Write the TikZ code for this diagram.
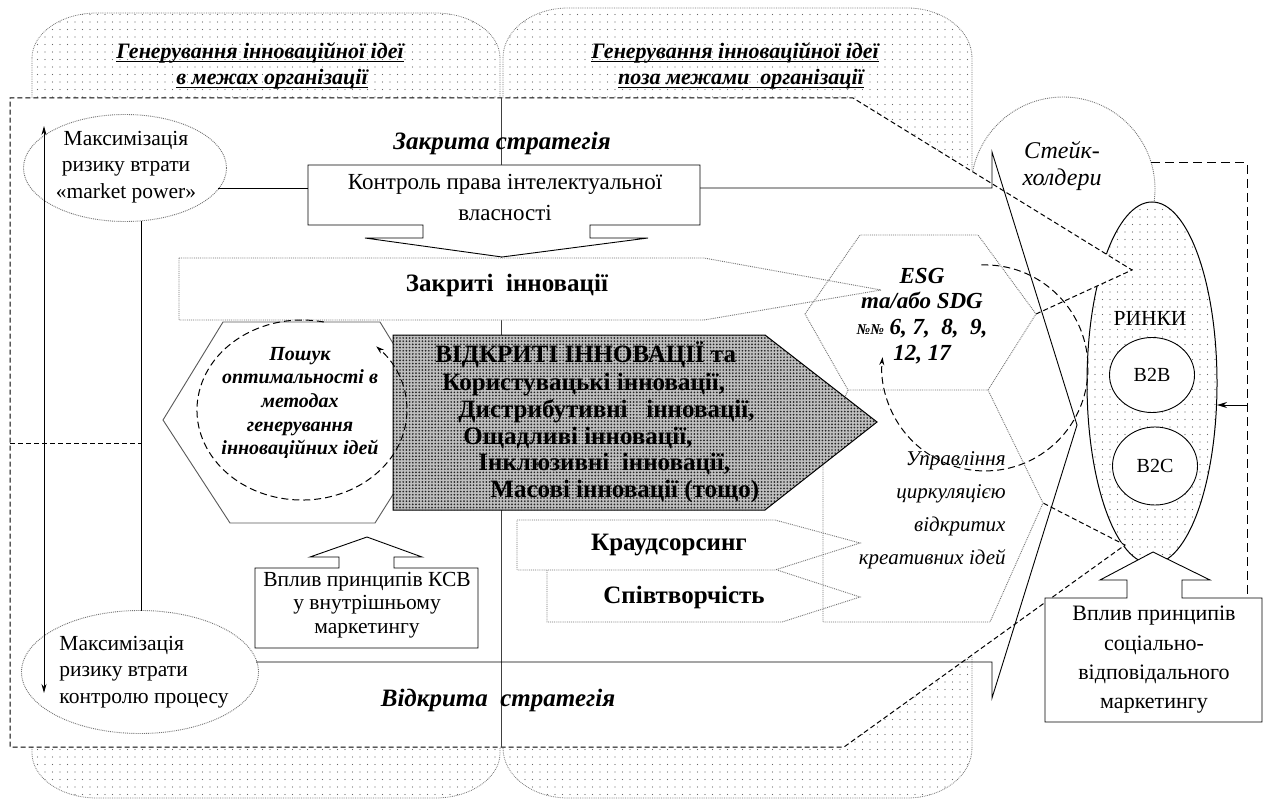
\documentclass[tikz,border=0pt]{standalone}
\usepackage{fontspec}
\setmainfont{Liberation Serif}
\usetikzlibrary{patterns.meta,arrows.meta,shapes.geometric}
\newcommand\myul[1]{\setbox0=\hbox{#1}\rlap{\rule[-3.5pt]{\wd0}{1.2pt}}\box0}
\begin{document}
\begin{tikzpicture}[x=1pt,y=-1pt,line width=0.9pt,
  dotsfill/.style={pattern={Dots[distance=7.5pt,radius=0.6pt]},pattern color=black!60},
  blob/.style={dotsfill,draw=black!55,densely dotted,line width=0.8pt},
  frdash/.style={dash pattern=on 5pt off 3pt,line width=1pt},
  lgdash/.style={dash pattern=on 9pt off 5pt,line width=1pt},
  arcdash/.style={dash pattern=on 7pt off 4pt,line width=1pt},
  gdot/.style={draw=black!55,densely dotted,line width=0.9pt},
  tn/.style={font=\fontsize{21.5}{26.5}\selectfont,align=center,inner sep=0pt},
  tb/.style={font=\bfseries\fontsize{25}{27}\selectfont,align=center,inner sep=0pt},
  tbi/.style={font=\bfseries\itshape\fontsize{25}{27}\selectfont,align=center,inner sep=0pt},
  tit/.style={font=\bfseries\itshape\fontsize{22}{17}\selectfont,inner sep=0pt,anchor=base},
  tipar/.style={-{Stealth[length=8pt,width=5pt]}},
  ell/.style={ellipse,draw=black!55,densely dotted,line width=0.9pt,fill=white,inner sep=0pt},
]
\useasboundingbox (0,0) rectangle (1263,802);

% ---------- dotted blobs ----------
\path[blob] (32,58) arc[start angle=180,end angle=270,x radius=65,y radius=45] -- (435,13)
  arc[start angle=270,end angle=360,x radius=65,y radius=45] -- (500,753)
  arc[start angle=0,end angle=90,x radius=65,y radius=45] -- (97,798)
  arc[start angle=90,end angle=180,x radius=65,y radius=45] -- cycle;
\path[blob] (503,58) arc[start angle=180,end angle=270,x radius=65,y radius=50] -- (907,8)
  arc[start angle=270,end angle=360,x radius=65,y radius=50] -- (972,748)
  arc[start angle=0,end angle=90,x radius=65,y radius=50] -- (568,798)
  arc[start angle=90,end angle=180,x radius=65,y radius=50] -- cycle;

\node[tit] (tl1) at (260,59) {\myul{Генерування інноваційної ідеї}};
\node[tit] (tl2) at (272,85) {\myul{в межах організації}};
\node[tit] (tr1) at (735,59) {\myul{Генерування інноваційної ідеї}};
\node[tit] (tr2) at (741,85) {\myul{поза межами\ \ організації}};

% ---------- stakeholders bubble ----------
\node[circle,draw=black!55,densely dotted,line width=0.9pt,fill=white,minimum size=184pt,inner sep=0pt] (stk) at (1063,189) {};

% ---------- markets ellipse ----------
\fill[white] (1152,383) ellipse[x radius=65,y radius=181];
\node[ellipse,draw,line width=1pt,minimum width=130pt,minimum height=362pt,inner sep=0pt,dotsfill] (rin) at (1152,383) {};

% ---------- white dashed frame ----------
\fill[white] (10,98) -- (853,98) -- (1132,270) -- (1036,314) -- (1043,503) -- (1125,545) -- (844,747) -- (10,747) -- cycle;
\draw[frdash] (1036,314) -- (1132,270) -- (853,98) -- (10,98) -- (10,747) -- (844,747) -- (1125,545) -- (1043,503);

\node[font=\itshape\fontsize{24}{27}\selectfont,align=center,inner sep=0pt] (stkt) at (1062,166) {Стейк-\\холдери};

% divider
\draw[line width=0.7pt,black!75] (501,98) -- (501,747);

% ---------- left side ----------
\node[ell,minimum width=203pt,minimum height=107pt] (e1) at (125,168) {};
\node[ell,minimum width=237pt,minimum height=123pt] (e2) at (140,672) {};
\node[tn] (e1t) at (126,167) {Максимізація\\ризику втрати\\«market power»};
\node[tn,align=left,anchor=west] (e2t) at (59,672) {Максимізація\\ризику втрати\\контролю процесу};

\coordinate (c1) at (141,221); \coordinate (c2) at (141,611);
\draw (c1) -- (c2);
\coordinate (d1) at (10,443); \coordinate (d2) at (141,443);
\draw[frdash] (d1) -- (d2);
\coordinate (da1) at (44,126); \coordinate (da2) at (44,693);
\draw[{Stealth[length=9pt,width=5pt]}-{Stealth[length=9pt,width=5pt]}] (da1) -- (da2);

% ---------- big strategy arrow ----------
\coordinate (a0) at (218,188); \coordinate (a1) at (308,188);
\draw (a0) -- (a1);
\coordinate (a2) at (700,188); \coordinate (a3) at (256,662);
\draw (a2) -- (992,188) -- (992,152) -- (1077,425) -- (992,698) -- (992,662) -- (a3);

\node[tbi] (cs) at (502,143) {Закрита стратегія};
\node[tbi] (os) at (498,700) {Відкрита\ \ стратегія};

% control box callout
\draw[fill=white] (308,165) -- (700,165) -- (700,225) -- (590,225) -- (590,238) -- (648,238) -- (502,257)
  -- (365,238) -- (423,238) -- (423,225) -- (308,225) -- cycle;
\node[tn,font=\fontsize{23}{31}\selectfont] (ctrl) at (505,197) {Контроль права інтелектуальної\\власності};

% closed innovations arrow
\draw[gdot,fill=white] (179,258) -- (704,258) -- (881,290) -- (704,320) -- (179,320) -- cycle;
\node[tb] (ci) at (507,285) {Закриті\ \ інновації};

% ESG hexagon
\draw[gdot] (805,314) -- (860,235) -- (978,235) -- (1036,314) -- (988,390) -- (848,390) -- cycle;
% management shape
\draw[gdot] (848,390) -- (823,450) -- (823,622) -- (990,622) -- (1043,503) -- (988,390);

% search hexagon
\draw[draw=black!65,fill=white,line width=0.9pt] (163,420) -- (223,322) -- (380,322) -- (440,420) -- (375,523) -- (230,523) -- cycle;

% open innovations arrow
\draw[preaction={fill=black!25},pattern={Dots[distance=3.2pt,radius=0.95pt]},pattern color=black!85,line width=1pt]
  (393,335) -- (765,335) -- (877,422) -- (765,510) -- (393,510) -- cycle;
\begin{scope}[every node/.style={font=\bfseries\fontsize{25}{27}\selectfont,inner sep=0pt,anchor=base west}]
\node (o1) at (435,362) {ВІДКРИТІ ІННОВАЦІЇ та};
\node (o2) at (442,390) {Користувацькі інновації,};
\node (o3) at (458,417) {Дистрибутивні\ \ \ інновації,};
\node (o4) at (463,444) {Ощадливі інновації,};
\node (o5) at (478,470) {Інклюзивні\ \ інновації,};
\node (o6) at (490,497) {Масові інновації (тощо)};
\end{scope}

\node[font=\bfseries\itshape\fontsize{20}{23.7}\selectfont,align=center,inner sep=0pt] (srch) at (300,403)
  {Пошук\\оптимальності в\\методах\\генерування\\інноваційних ідей};
\draw[arcdash,tipar] (323.8,322) arc[start angle=-78,end angle=-405,x radius=105,y radius=90];

\node[font=\bfseries\itshape\fontsize{23}{25.7}\selectfont,align=center,inner sep=0pt] (esg) at (922,316)
  {ESG\\та/або SDG\\{\fontsize{15}{15}\selectfont №№} 6, 7,\ \ 8,\ \ 9,\\12, 17};
\draw[arcdash,tipar] (981.4,265) arc[start angle=-92,end angle=186,radius=103];

\node[font=\itshape\fontsize{21}{33}\selectfont,align=right,inner sep=0pt,anchor=east] (mng) at (1006,510)
  {Управління\\циркуляцією\\відкритих\\креативних ідей};

% crowdsourcing / co-creation
\draw[gdot] (547,570) -- (547,622) -- (782,622) -- (860,597) -- (777,570);
\draw[gdot] (517,520) -- (775,520) -- (860,543) -- (775,570) -- (517,570) -- cycle;
\node[tb] (crowd) at (669,545) {Краудсорсинг};
\node[tb] (cocr) at (684,597) {Співтворчість};

% CSR internal marketing callout
\draw[fill=white] (255,568) -- (339,568) -- (339,557) -- (310,557) -- (367,537) -- (422,557) -- (394,557)
  -- (394,568) -- (478,568) -- (478,648) -- (255,648) -- cycle;
\node[tn,font=\fontsize{21.5}{23.3}\selectfont] (ksv) at (367,605) {Вплив принципів КСВ\\у внутрішньому\\маркетингу};

% markets contents
\node[tn] (rint) at (1150,318) {РИНКИ};
\node[ellipse,draw,fill=white,minimum width=85pt,minimum height=75pt,inner sep=0pt,font=\fontsize{20}{20}\selectfont] (b2b) at (1152,375) {B2B};
\node[ellipse,draw,fill=white,minimum width=85pt,minimum height=78pt,inner sep=0pt,font=\fontsize{20}{20}\selectfont] (b2c) at (1155,466) {B2C};

% social marketing callout
\draw[fill=white] (1045,598) -- (1127,598) -- (1127,580) -- (1100,580) -- (1153,552) -- (1210,580) -- (1182,580)
  -- (1182,598) -- (1262,598) -- (1262,722) -- (1045,722) -- cycle;
\node[tn,font=\fontsize{22}{29.3}\selectfont] (smk) at (1154,660) {Вплив принципів\\соціально-\\відповідального\\маркетингу};

% feedback dashed line and arrow into markets
\coordinate (s1) at (1151,163); \coordinate (s2) at (1247,163); \coordinate (s3) at (1247,598);
\draw[lgdash] (s1) -- (s2) -- (s3);
\coordinate (r1) at (1247,405); \coordinate (r2) at (1217,405);
\draw[-{Stealth[length=10pt,width=6pt]}] (r1) -- (r2);
\end{tikzpicture}
\end{document}
